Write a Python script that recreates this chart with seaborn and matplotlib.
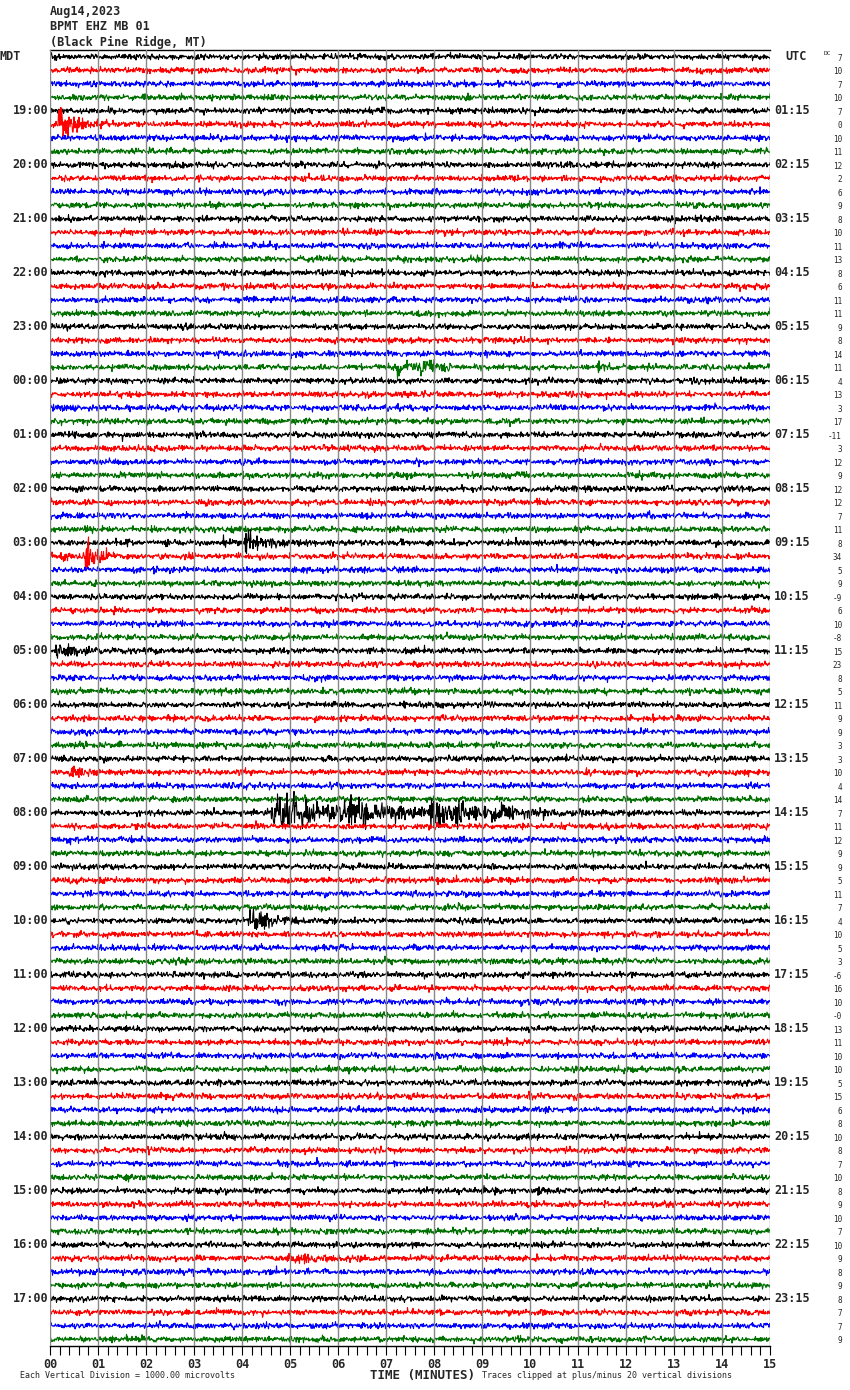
import numpy as np
import pandas as pd
import matplotlib
matplotlib.use("Agg")
import matplotlib.pyplot as plt
import seaborn as sns

# header text
title_lines = ["Aug14,2023", "BPMT EHZ MB 01", "(Black Pine Ridge, MT)"]

# 96 traces of 15 minutes each, starting 18:00 MDT
trace_colors = ["black", "red", "blue", "#007000"]
mdt_labels = ["19:00", "20:00", "21:00", "22:00", "23:00", "00:00", "01:00", "02:00",
              "03:00", "04:00", "05:00", "06:00", "07:00", "08:00", "09:00", "10:00",
              "11:00", "12:00", "13:00", "14:00", "15:00", "16:00", "17:00"]
utc_labels = ["01:15", "02:15", "03:15", "04:15", "05:15", "06:15", "07:15", "08:15",
              "09:15", "10:15", "11:15", "12:15", "13:15", "14:15", "15:15", "16:15",
              "17:15", "18:15", "19:15", "20:15", "21:15", "22:15", "23:15"]
dc_values = [7, 10, 7, 10, 7, 0, 10, 11, 12, 2, 6, 9, 8, 10, 11, 13,
             8, 6, 11, 11, 9, 8, 14, 11, 4, 13, 3, 17, -11, 3, 12, 9,
             12, 12, 7, 11, 8, 34, 5, 9, -9, 6, 10, -8, 15, 23, 8, 5,
             11, 9, 9, 3, 3, 10, 4, 14, 7, 11, 12, 9, 9, 5, 11, 7,
             4, 10, 5, 3, -6, 16, 10, "-0", 13, 11, 10, 10, 5, 15, 6, 8,
             10, 8, 7, 10, 8, 9, 10, 7, 10, 9, 8, 9, 8, 7, 7, 9]
minute_labels = ["00", "01", "02", "03", "04", "05", "06", "07",
                 "08", "09", "10", "11", "12", "13", "14", "15"]

# events (trace index, onset minute, decay minutes, peak amplitude
# in units of trace spacing)
event_trace = [5, 5, 23, 23, 23, 36, 36, 37, 37, 44, 53, 56, 56, 56, 56, 64, 77, 84, 89]
event_onset = [0.17, 0.17, 7.2, 7.7, 11.4, 3.58, 4.05, 0.2, 0.72, 0.1, 0.4,
               4.6, 6.0, 7.9, 9.0, 4.12, 9.95, 10.1, 4.9]
event_decay = [0.3, 0.03, 0.25, 0.25, 0.2, 0.05, 0.35, 0.2, 0.25, 0.6, 0.3,
               1.2, 1.5, 0.6, 0.8, 0.35, 0.2, 0.05, 0.8]
event_amp = [0.7, 1.0, 0.3, 0.35, 0.15, 0.7, 0.45, 0.25, 0.6, 0.2, 0.2,
             0.6, 0.3, 0.55, 0.2, 0.55, 0.15, 0.4, 0.12]
noise_level = 0.1


def build_frame():
    t = np.linspace(0, 15, 1441)
    rng = np.random.default_rng(14)  # texture of the background noise only
    frames = []
    for i in range(len(dc_values)):
        env = np.full_like(t, noise_level)
        for tr, on, dec, a in zip(event_trace, event_onset, event_decay, event_amp):
            if tr == i:
                rise = np.clip((t - on) / 0.03, 0, 1)
                env += a * rise * np.exp(-np.clip(t - on, 0, None) / dec)
        frames.append(pd.DataFrame({"minute": t,
                                    "offset": i + env * rng.standard_normal(t.size),
                                    "trace": f"t{i:02d}"}))
    return pd.concat(frames, ignore_index=True)


def generate():
    sns.set_style("white")
    plt.rcParams["font.family"] = ["DejaVu Sans Mono"]
    W, H = 850, 1390
    fig = plt.figure(figsize=(W / 100, H / 100), dpi=100)
    ax = fig.add_axes([50 / W, 1 - 1346 / H, 720 / W, 1296 / H])

    df = build_frame()
    palette = {f"t{i:02d}": trace_colors[i % 4] for i in range(len(dc_values))}
    sns.lineplot(data=df, x="minute", y="offset", hue="trace", palette=palette,
                 estimator=None, legend=False, linewidth=0.8, ax=ax)

    for m in range(16):
        ax.axvline(m, color="#888888", lw=1.0, zorder=3)

    ax.set_xlim(0, 15)
    ax.set_ylim(len(dc_values) - 0.5, -0.5)
    ax.set_xlabel("")
    ax.set_ylabel("")
    ax.set_yticks([])
    ax.set_xticks(range(16))
    ax.set_xticklabels(minute_labels, fontsize=8.5, fontweight="bold")
    ax.set_xticks(np.arange(0, 15.01, 0.2), minor=True)
    ax.tick_params(axis="x", which="both", direction="out", length=6.5, width=0.8,
                   color="black", pad=2, bottom=True)
    for side in ["left", "right"]:
        ax.spines[side].set_visible(False)
    for side in ["top", "bottom"]:
        ax.spines[side].set_color("black")
        ax.spines[side].set_linewidth(1.0)

    ytr = ax.get_yaxis_transform()
    for k, lab in enumerate(mdt_labels):
        ax.text(-2 / 720, 4 * (k + 1), lab, transform=ytr, ha="right", va="center",
                fontsize=8.5, fontweight="bold")
    for k, lab in enumerate(utc_labels):
        ax.text(1 + 4 / 720, 4 * (k + 1), lab, transform=ytr, ha="left", va="center",
                fontsize=8.5, fontweight="bold")
    for i, v in enumerate(dc_values):
        ax.text(1 + 72 / 720, i + 0.1, str(v), transform=ytr, ha="right", va="center",
                fontsize=5.5)
    ax.text(-50 / 720, 0, "MDT", transform=ytr, ha="left", va="center",
            fontsize=8.5, fontweight="bold")
    ax.text(1 + 15 / 720, 0, "UTC", transform=ytr, ha="left", va="center",
            fontsize=8.5, fontweight="bold")
    ax.text(1 + 54 / 720, -0.25, "DC", transform=ytr, ha="left", va="center",
            fontsize=4.5)

    for k, line in enumerate(title_lines):
        fig.text(50 / W, 1 - (12 + 15 * k) / H, line, ha="left", va="center",
                 fontsize=8.5, fontweight="bold")

    fig.text(422 / W, 1 - 1376 / H, "TIME (MINUTES)", ha="center", va="center",
             fontsize=9, fontweight="bold")
    fig.text(20 / W, 1 - 1376 / H, "Each Vertical Division = 1000.00 microvolts",
             ha="left", va="center", fontsize=6)
    fig.text(482 / W, 1 - 1376 / H, "Traces clipped at plus/minus 20 vertical divisions",
             ha="left", va="center", fontsize=6)

    fig.savefig("out.png", dpi=100)
    plt.close(fig)


if __name__ == "__main__":
    generate()
